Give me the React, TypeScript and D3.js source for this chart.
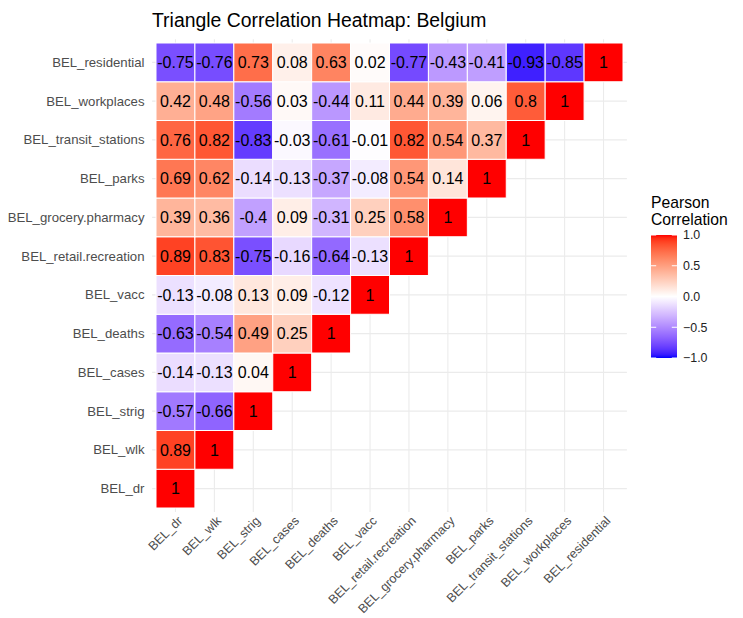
import * as d3 from 'd3'

// variable order (x left->right, y bottom->top)
const vars = [
  'BEL_dr', 'BEL_wlk', 'BEL_strig', 'BEL_cases', 'BEL_deaths', 'BEL_vacc',
  'BEL_retail.recreation', 'BEL_grocery.pharmacy', 'BEL_parks',
  'BEL_transit_stations', 'BEL_workplaces', 'BEL_residential',
]

// lower-triangle rows: correlations of each variable with vars[0..i]
const dr = [1]
const wlk = [0.89, 1]
const strig = [-0.57, -0.66, 1]
const cases = [-0.14, -0.13, 0.04, 1]
const deaths = [-0.63, -0.54, 0.49, 0.25, 1]
const vacc = [-0.13, -0.08, 0.13, 0.09, -0.12, 1]
const retail = [0.89, 0.83, -0.75, -0.16, -0.64, -0.13, 1]
const grocery = [0.39, 0.36, -0.4, 0.09, -0.31, 0.25, 0.58, 1]
const parks = [0.69, 0.62, -0.14, -0.13, -0.37, -0.08, 0.54, 0.14, 1]
const transit = [0.76, 0.82, -0.83, -0.03, -0.61, -0.01, 0.82, 0.54, 0.37, 1]
const workplaces = [0.42, 0.48, -0.56, 0.03, -0.44, 0.11, 0.44, 0.39, 0.06, 0.8, 1]
const residential = [-0.75, -0.76, 0.73, 0.08, 0.63, 0.02, -0.77, -0.43, -0.41, -0.93, -0.85, 1]

const rows = [dr, wlk, strig, cases, deaths, vacc, retail, grocery, parks, transit, workplaces, residential]

const legendBreaks = [-1, -0.5, 0, 0.5, 1]

const W = 743
const H = 618
const font = "'Liberation Sans', Arial, sans-serif"

export default function App() {
  const x = d3.scaleBand().domain(vars).range([156, 623])
  const y = d3.scaleBand().domain([...vars].reverse()).range([43, 508])
  const bw = x.bandwidth()
  const bh = y.bandwidth()
  const panel = {
    left: 156 - 0.1 * bw,
    right: 623 + 0.1 * bw,
    top: 43 - 0.1 * bh,
    bottom: 508 + 0.1 * bh,
  }

  const neg = d3.interpolateLab('white', 'blue')
  const pos = d3.interpolateLab('white', 'red')
  const fill = (v: number) => (v >= 0 ? pos(v) : neg(-v))

  const cells: { xv: string, yv: string, v: number }[] = []
  rows.forEach((r, i) => {
    r.forEach((v, j) => cells.push({ xv: vars[j], yv: vars[i], v }))
  })

  // legend
  const lg = d3.scaleLinear().domain([1, -1]).range([235, 358])
  const barX = 651
  const barW = 26
  const stops = d3.range(0, 41).map((k) => {
    const v = 1 - k / 20
    return { off: k / 40, c: fill(v) }
  })

  return (
    <svg width={W} height={H} style={{ position: 'absolute', left: 0, top: 0, background: '#fff' }} fontFamily={font}>
      <defs>
        <linearGradient id="lg" x1="0" y1="0" x2="0" y2="1">
          {stops.map((s, i) => <stop key={i} offset={s.off} stopColor={s.c} />)}
        </linearGradient>
      </defs>

      <text x={152} y={27} fontSize={19.4} fill="#000">Triangle Correlation Heatmap: Belgium</text>

      {/* grid */}
      <g stroke="#EBEBEB" strokeWidth={1.07}>
        {vars.map((v) => (
          <line key={'gx' + v} x1={x(v)! + bw / 2} x2={x(v)! + bw / 2} y1={panel.top} y2={panel.bottom} />
        ))}
        {vars.map((v) => (
          <line key={'gy' + v} y1={y(v)! + bh / 2} y2={y(v)! + bh / 2} x1={panel.left} x2={panel.right} />
        ))}
      </g>

      {/* tiles */}
      <g>
        {cells.map((c, i) => (
          <rect key={i} x={x(c.xv)} y={y(c.yv)} width={bw} height={bh}
            fill={fill(c.v)} stroke="#fff" strokeWidth={1} />
        ))}
      </g>
      <g fontSize={16} fill="#000" textAnchor="middle">
        {cells.map((c, i) => (
          <text key={i} x={x(c.xv)! + bw / 2} y={y(c.yv)! + bh / 2} dy="0.36em">{String(c.v)}</text>
        ))}
      </g>

      {/* y axis */}
      <g fontSize={13.2} fill="#4D4D4D" textAnchor="end">
        {vars.map((v) => (
          <text key={v} x={144.5} y={y(v)! + bh / 2} dy="0.35em">{v}</text>
        ))}
      </g>

      {/* x axis */}
      <g fontSize={12.6} fill="#4D4D4D" textAnchor="end">
        {vars.map((v) => (
          <text key={v} transform={`translate(${x(v)! + bw / 2 + 1},${panel.bottom + 3}) rotate(-45)`} dy="0.75em">{v}</text>
        ))}
      </g>

      {/* legend */}
      <g>
        <text x={651} y={208} fontSize={15.7} fill="#000">Pearson</text>
        <text x={651} y={225} fontSize={15.7} fill="#000">Correlation</text>
        <rect x={barX} y={lg(1)} width={barW} height={lg(-1) - lg(1)} fill="url(#lg)" />
        {legendBreaks.map((b) => (
          <g key={b} stroke="#fff" strokeWidth={1}>
            <line x1={barX} x2={barX + barW / 5} y1={lg(b)} y2={lg(b)} />
            <line x1={barX + barW - barW / 5} x2={barX + barW} y1={lg(b)} y2={lg(b)} />
          </g>
        ))}
        <g fontSize={12.4} fill="#222">
          {legendBreaks.map((b) => (
            <text key={b} x={683} y={lg(b)} dy="0.35em">{d3.format('.1f')(b)}</text>
          ))}
        </g>
      </g>
    </svg>
  )
}
